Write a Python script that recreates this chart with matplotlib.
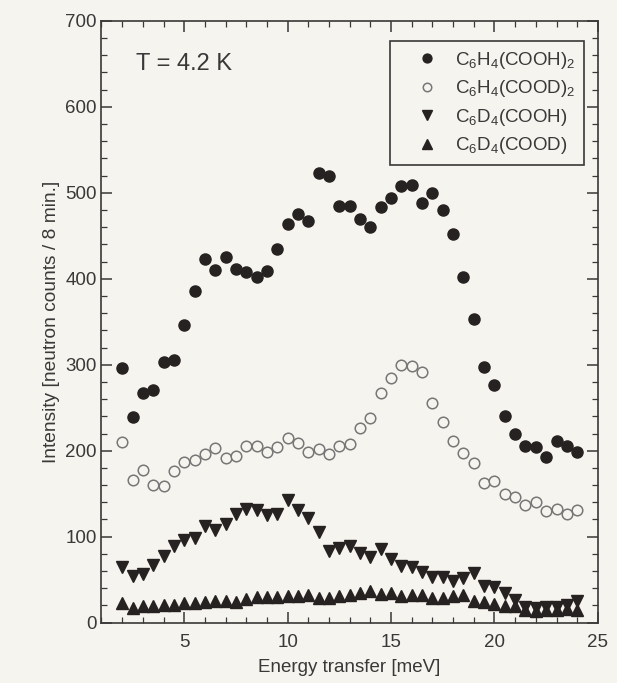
import numpy as np
import matplotlib
matplotlib.use('Agg')
import matplotlib.pyplot as plt
from matplotlib.ticker import MultipleLocator

plt.rcParams['font.family'] = ['Liberation Sans', 'DejaVu Sans']
plt.rcParams['mathtext.fontset'] = 'custom'
plt.rcParams['mathtext.rm'] = 'Liberation Sans'
plt.rcParams['mathtext.it'] = 'Liberation Sans:italic'

#%% Data: INS spectra at 4.2 K, energy transfer in meV
energy = np.arange(2.0, 24.01, 0.5)

cooh2_h4 = [296, 239, 267, 271, 303, 306, 346, 386, 423, 410, 425, 411, 408, 402, 409,
            435, 464, 475, 467, 523, 519, 485, 485, 469, 460, 484, 494, 508, 509, 488,
            500, 480, 452, 402, 353, 297, 276, 240, 220, 206, 204, 193, 211, 206, 199]
cood2_h4 = [210, 166, 177, 160, 159, 176, 187, 189, 196, 203, 191, 194, 206, 205, 199,
            204, 215, 209, 198, 202, 196, 205, 208, 226, 238, 267, 285, 300, 299, 291,
            255, 233, 211, 197, 186, 163, 165, 150, 146, 137, 140, 130, 132, 126, 131]
cooh_d4 = [65, 54, 57, 67, 78, 89, 96, 99, 112, 108, 115, 126, 132, 131, 125,
           126, 143, 131, 122, 105, 83, 87, 89, 81, 76, 86, 74, 66, 65, 59,
           53, 53, 48, 52, 58, 43, 42, 34, 26, 18, 17, 18, 18, 20, 25]
cood_d4 = [23, 17, 19, 19, 20, 21, 23, 23, 24, 25, 25, 24, 28, 30, 30,
           30, 31, 31, 32, 29, 29, 31, 32, 34, 37, 33, 35, 31, 32, 32,
           29, 29, 31, 32, 25, 24, 22, 19, 19, 15, 14, 15, 15, 16, 15]

labels = [r'C$_6$H$_4$(COOH)$_2$', r'C$_6$H$_4$(COOD)$_2$',
          r'C$_6$D$_4$(COOH)', r'C$_6$D$_4$(COOD)']

#%% Plot
bg = '#f6f4ee'
ink = '#262222'
txt = '#3a3838'

fig = plt.figure(figsize=(6.17, 6.83), dpi=100, facecolor=bg)
ax = fig.add_axes([0.1645, 0.0884, 0.8045, 0.881], facecolor=bg)

ax.plot(energy, cooh2_h4, 'o', ms=8.0, color=ink, mec=ink, label=labels[0])
ax.plot(energy, cood2_h4, 'o', ms=7.6, mfc=bg, mec='#777777', mew=1.1, label=labels[1])
ax.plot(energy, cooh_d4, 'v', ms=8.5, color=ink, mec=ink, label=labels[2])
ax.plot(energy, cood_d4, '^', ms=8.5, color=ink, mec=ink, label=labels[3])

ax.set_xlim(1, 25)
ax.set_ylim(0, 700)
ax.xaxis.set_major_locator(MultipleLocator(5))
ax.xaxis.set_minor_locator(MultipleLocator(1))
ax.yaxis.set_major_locator(MultipleLocator(100))
ax.yaxis.set_minor_locator(MultipleLocator(20))
ax.tick_params(which='both', direction='in', top=True, right=True, color=txt,
               labelcolor=txt, labelsize=13.5)
ax.tick_params(which='major', length=8, width=1.1)
ax.tick_params(which='minor', length=4, width=0.9)
ax.tick_params(axis='x', pad=8)
for s in ax.spines.values():
    s.set_color(txt)
    s.set_linewidth(1.2)

ax.set_xlabel('Energy transfer [meV]', fontsize=13.5, color=txt, labelpad=6)
ax.set_ylabel('Intensity [neutron counts / 8 min.]', fontsize=13.8, color=txt, labelpad=4)

ax.text(0.07, 0.928, 'T = 4.2 K', transform=ax.transAxes, fontsize=17, color=txt,
        va='center')

leg = ax.legend(loc='upper right', bbox_to_anchor=(0.972, 0.966), fontsize=13.5,
                frameon=True, fancybox=False, edgecolor=txt, facecolor=bg,
                framealpha=1, handletextpad=0.0, labelspacing=0.4,
                handlelength=3.0, borderpad=0.45, borderaxespad=0, markerscale=0.8)
leg.get_frame().set_linewidth(1.2)
for t in leg.get_texts():
    t.set_color(txt)

plt.savefig('out.png', dpi=100, facecolor=bg)
